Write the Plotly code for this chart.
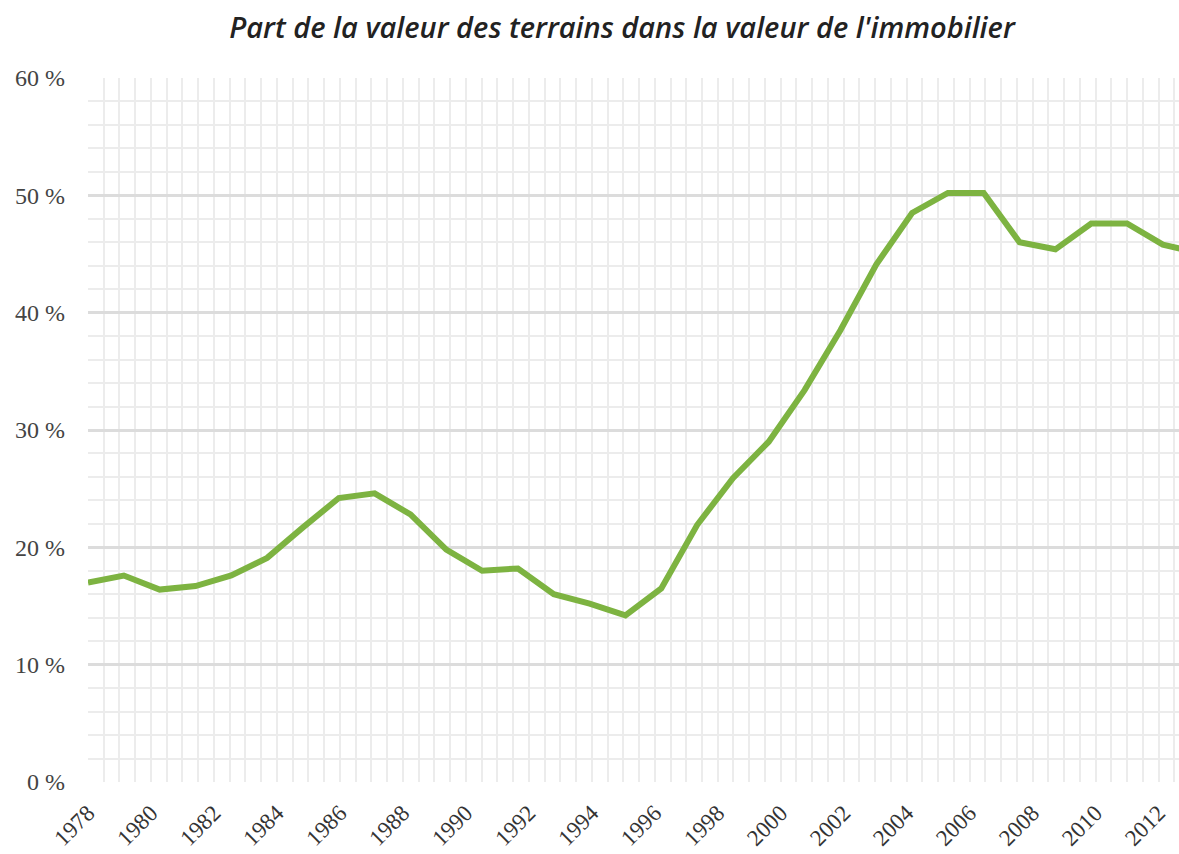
import plotly.graph_objects as go

# Data
periode = list(range(32))
part_terrains = [17.0, 17.6, 16.4, 16.7, 17.6, 19.1, 21.7, 24.2, 24.6, 22.8,
                 19.8, 18.0, 18.2, 16.0, 15.2, 14.2, 16.5, 21.9, 25.9, 29.0,
                 33.4, 38.5, 44.1, 48.5, 50.2, 50.2, 46.0, 45.4, 47.6, 47.6,
                 45.8, 45.1]

annees_ticks = list(range(1978, 2013, 2))
annees_labels = [str(a) for a in annees_ticks]
y_ticks = [0, 10, 20, 30, 40, 50, 60]
y_labels = [f"{v} %" for v in y_ticks]

title_text = "Part de la valeur des terrains dans la valeur de l'immobilier"

fig = go.Figure()

# invisible trace to anchor the year axis
fig.add_trace(go.Scatter(x=[annees_ticks[0], annees_ticks[-1]], y=[None, None],
                         mode="lines", showlegend=False, hoverinfo="skip",
                         xaxis="x", yaxis="y"))

fig.add_trace(go.Scatter(x=periode, y=part_terrains, mode="lines",
                         line=dict(color="#7db341", width=6),
                         showlegend=False, xaxis="x2", yaxis="y"))

serif = "Liberation Serif"
W, H = 1179, 854

fig.update_layout(
    width=W, height=H, autosize=False,
    margin=dict(l=88, r=0, t=78, b=72),
    paper_bgcolor="white", plot_bgcolor="white",
    title=dict(text=title_text, xref="container", x=622 / W, xanchor="center",
               yref="container", y=1 - 28 / H, yanchor="middle",
               font=dict(family="Open Sans", size=29, color="#222222",
                         style="italic", weight=600)),
    xaxis=dict(range=[1978, 2012.65], tickvals=annees_ticks, ticktext=annees_labels,
               tickangle=-45, showgrid=True, gridcolor="#ececec", gridwidth=2,
               zeroline=False, showline=False, ticks="", automargin=False,
               tickfont=dict(family=serif, size=23, color="#333333"),
               ticklabelstandoff=12,
               minor=dict(dtick=0.5, tick0=1978, showgrid=True,
                          gridcolor="#ececec", gridwidth=2)),
    xaxis2=dict(range=[0, 30.45], overlaying="x", visible=False),
    yaxis=dict(range=[0, 60], tickvals=y_ticks, ticktext=y_labels,
               showgrid=True, gridcolor="#dcdcdc", gridwidth=2.5,
               zeroline=False, showline=False, ticks="", automargin=False,
               tickfont=dict(family=serif, size=24, color="#444444"),
               ticklabelstandoff=22,
               minor=dict(dtick=2, tick0=0, showgrid=True,
                          gridcolor="#ececec", gridwidth=2)),
)

fig.write_html("out.html",
               config={"displayModeBar": False},
               post_script="document.body.style.margin='0';"
                           "document.body.style.overflow='hidden';")
